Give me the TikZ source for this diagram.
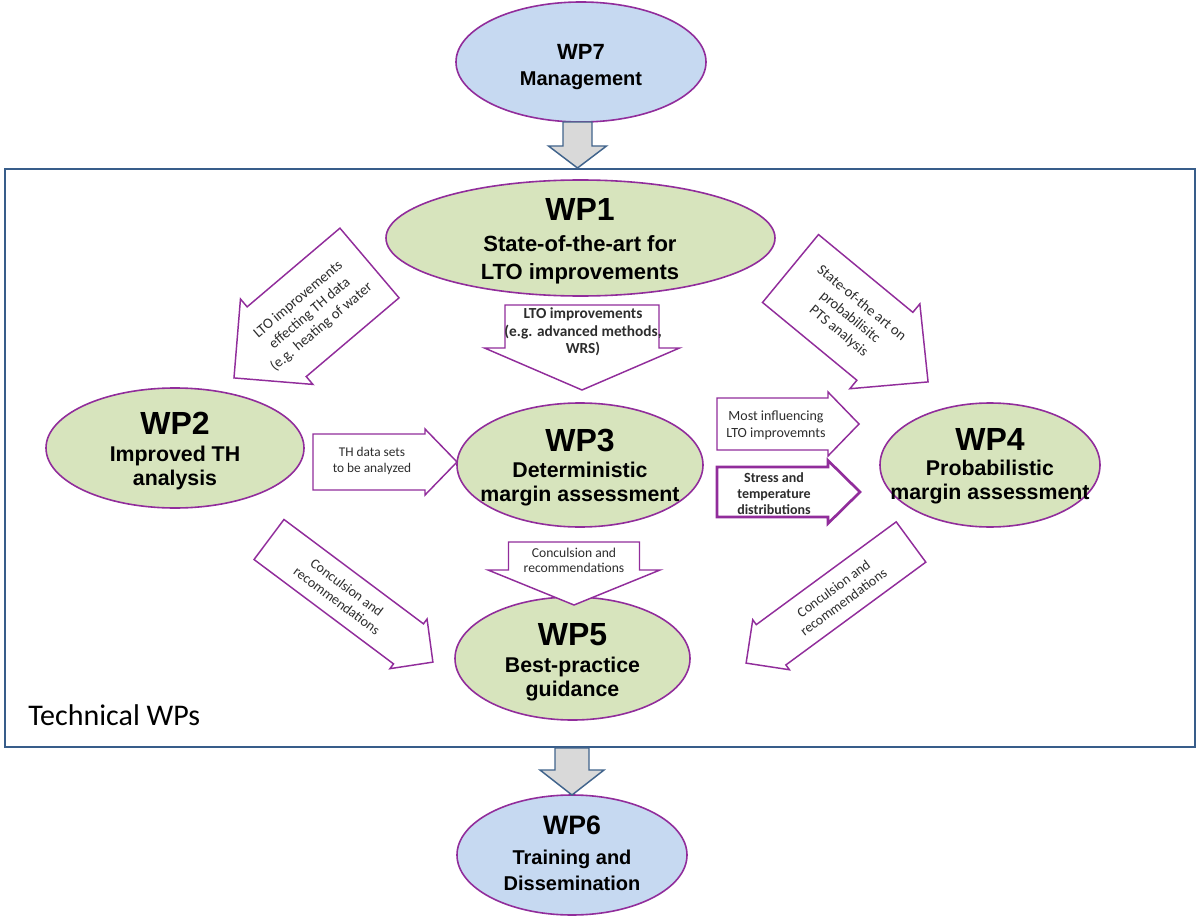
\documentclass[tikz,border=0pt]{standalone}
\usepackage{fontspec}
\setmainfont{Liberation Sans}
\newfontfamily\carl{Carlito}
\usetikzlibrary{shapes.geometric}
\definecolor{wpline}{RGB}{145,45,155}
\definecolor{wpgreen}{RGB}{215,228,189}
\definecolor{wpblue}{RGB}{198,217,241}
\definecolor{boxblue}{RGB}{56,93,138}
\definecolor{grayfill}{RGB}{217,217,217}
\definecolor{grayline}{RGB}{65,100,140}
\definecolor{atxt}{RGB}{45,45,45}
% #1 style, #2 x, #3 y, #4 angle, #5 length, #6 head length, #7 half shaft, #8 half head
\newcommand\fatarrow[8][]{%
  \begin{scope}[shift={(#2,#3)},rotate=#4]
    \draw[#1] (0,-#7) -- ({#5-#6},-#7) -- ({#5-#6},-#8) -- (#5,0) -- ({#5-#6},#8) -- ({#5-#6},#7) -- (0,#7) -- cycle;
  \end{scope}}
\begin{document}
\begin{tikzpicture}[x=0.75pt,y=-0.75pt,
  wpe/.style={ellipse, draw=wpline, line width=1.2pt, inner sep=0pt},
  gell/.style={wpe, fill=wpgreen},
  bell/.style={wpe, fill=wpblue},
  wptext/.style={align=center, inner sep=0pt, font=\bfseries\fontsize{16}{18}\selectfont},
  fat/.style={draw=wpline, fill=white, line width=1.1pt},
  fatbold/.style={draw=wpline, fill=white, line width=2pt},
  gfat/.style={draw=grayline, fill=grayfill, line width=1.1pt},
  atext/.style={align=center, inner sep=0pt, text=atxt, font=\carl\fontsize{11}{13.5}\selectfont}]
\useasboundingbox (0,0) rectangle (1200,920);

% technical box
\draw[draw=boxblue, line width=1.6pt] (5,169) rectangle (1195,747);
\node[anchor=base west, inner sep=0pt, font=\carl\fontsize{22.5}{27}\selectfont] (tech) at (28,725) {Technical WPs};

% ellipses
\node[bell, minimum width=187.5pt, minimum height=90pt] (wp7) at (581,62) {};
\node[gell, minimum width=291.75pt, minimum height=87pt] (wp1) at (580.5,238) {};
\node[gell, minimum width=193.5pt, minimum height=90pt] (wp2) at (175,448) {};
\node[gell, minimum width=184.5pt, minimum height=93pt] (wp3) at (580,465) {};
\node[gell, minimum width=165pt, minimum height=93pt] (wp4) at (990,465) {};
\node[gell, minimum width=176.25pt, minimum height=92.25pt] (wp5) at (572.5,658.5) {};
\node[bell, minimum width=172.5pt, minimum height=90pt] (wp6) at (572,855) {};

% ellipse texts
\node[wptext, font=\bfseries\fontsize{15}{20}\selectfont] (wp7t) at (581,67) {{\fontsize{16.5}{18}\selectfont WP7}\\Management};
\node[wptext, font=\bfseries\fontsize{16.5}{21}\selectfont] (wp1t) at (580,241.5) {{\fontsize{24}{26}\selectfont WP1}\\[2pt]State-of-the-art for\\LTO improvements};
\node[wptext] (wp2t) at (175,451) {{\fontsize{24}{26}\selectfont WP2}\\[2pt]Improved TH\\analysis};
\node[wptext] (wp3t) at (580,467.5) {{\fontsize{24}{26}\selectfont WP3}\\[1pt]Deterministic\\margin assessment};
\node[wptext] (wp4t) at (990,466.5) {{\fontsize{24}{26}\selectfont WP4}\\[1pt]Probabilistic\\margin assessment};
\node[wptext] (wp5t) at (572.5,662.5) {{\fontsize{24}{26}\selectfont WP5}\\[2pt]Best-practice\\guidance};
\node[wptext, font=\bfseries\fontsize{15}{20}\selectfont] (wp6t) at (572,853.5) {{\fontsize{20}{22}\selectfont WP6}\\[2pt]Training and\\Dissemination};

% gray arrows
\fatarrow[gfat]{577.5}{122}{-90}{46}{22}{14.5}{29}
\fatarrow[gfat]{572}{748}{-90}{47}{25}{17}{32}

% purple fat arrows
\fatarrow[fat]{369.5}{263}{220.3}{177.7}{56}{45.7}{56}
\fatarrow[fat]{790.5}{268.5}{-39.5}{178.3}{56}{44}{55}
\fatarrow[fat]{582}{305}{-90}{85}{42}{77}{97.5}
\fatarrow[fat]{313}{462}{0}{144}{32}{28}{33}
\fatarrow[fat]{717}{424}{0}{142}{31}{26}{32}
\fatarrow[fatbold]{717}{492}{0}{143}{32}{25}{31.5}
\fatarrow[fat]{574}{542}{-90}{63}{35}{65.5}{86}
\fatarrow[fat]{269}{539.5}{-36.8}{204.7}{30.5}{25}{31}
\fatarrow[fat]{911}{542}{216.3}{204.6}{31}{25}{31}

% arrow texts
\node[atext, rotate=40.3] (t21) at (310,313.5) {LTO improvements\\effecting TH data\\(e.g. heating of water};
\node[atext, rotate=-39.5] (t14) at (850,317.5) {State-of-the art on\\probabilisitc\\PTS analysis};
\node[atext, font=\carl\bfseries\fontsize{11.5}{13}\selectfont] (t13) at (583,332) {LTO improvements\\(e.g. advanced methods,\\WRS)};
\node[atext, font=\carl\fontsize{10}{12}\selectfont] (t23) at (372,461) {TH data sets\\to be analyzed};
\node[atext, font=\carl\fontsize{10.5}{12.5}\selectfont] (t34a) at (776,425) {Most influencing\\LTO improvemnts};
\node[atext, font=\carl\bfseries\fontsize{10.5}{12}\selectfont] (t34b) at (774,494) {Stress and\\temperature\\distributions};
\node[atext, font=\carl\fontsize{10.2}{11.5}\selectfont] (t35) at (574,560.5) {Conculsion and\\recommendations};
\node[atext, font=\carl\fontsize{10.5}{12.5}\selectfont, rotate=-36.8] (t25) at (342,594) {Conculsion and\\recommendations};
\node[atext, font=\carl\fontsize{10.5}{12.5}\selectfont, rotate=36.3] (t45) at (838.5,595.3) {Conculsion and\\recommendations};
\end{tikzpicture}
\end{document}
